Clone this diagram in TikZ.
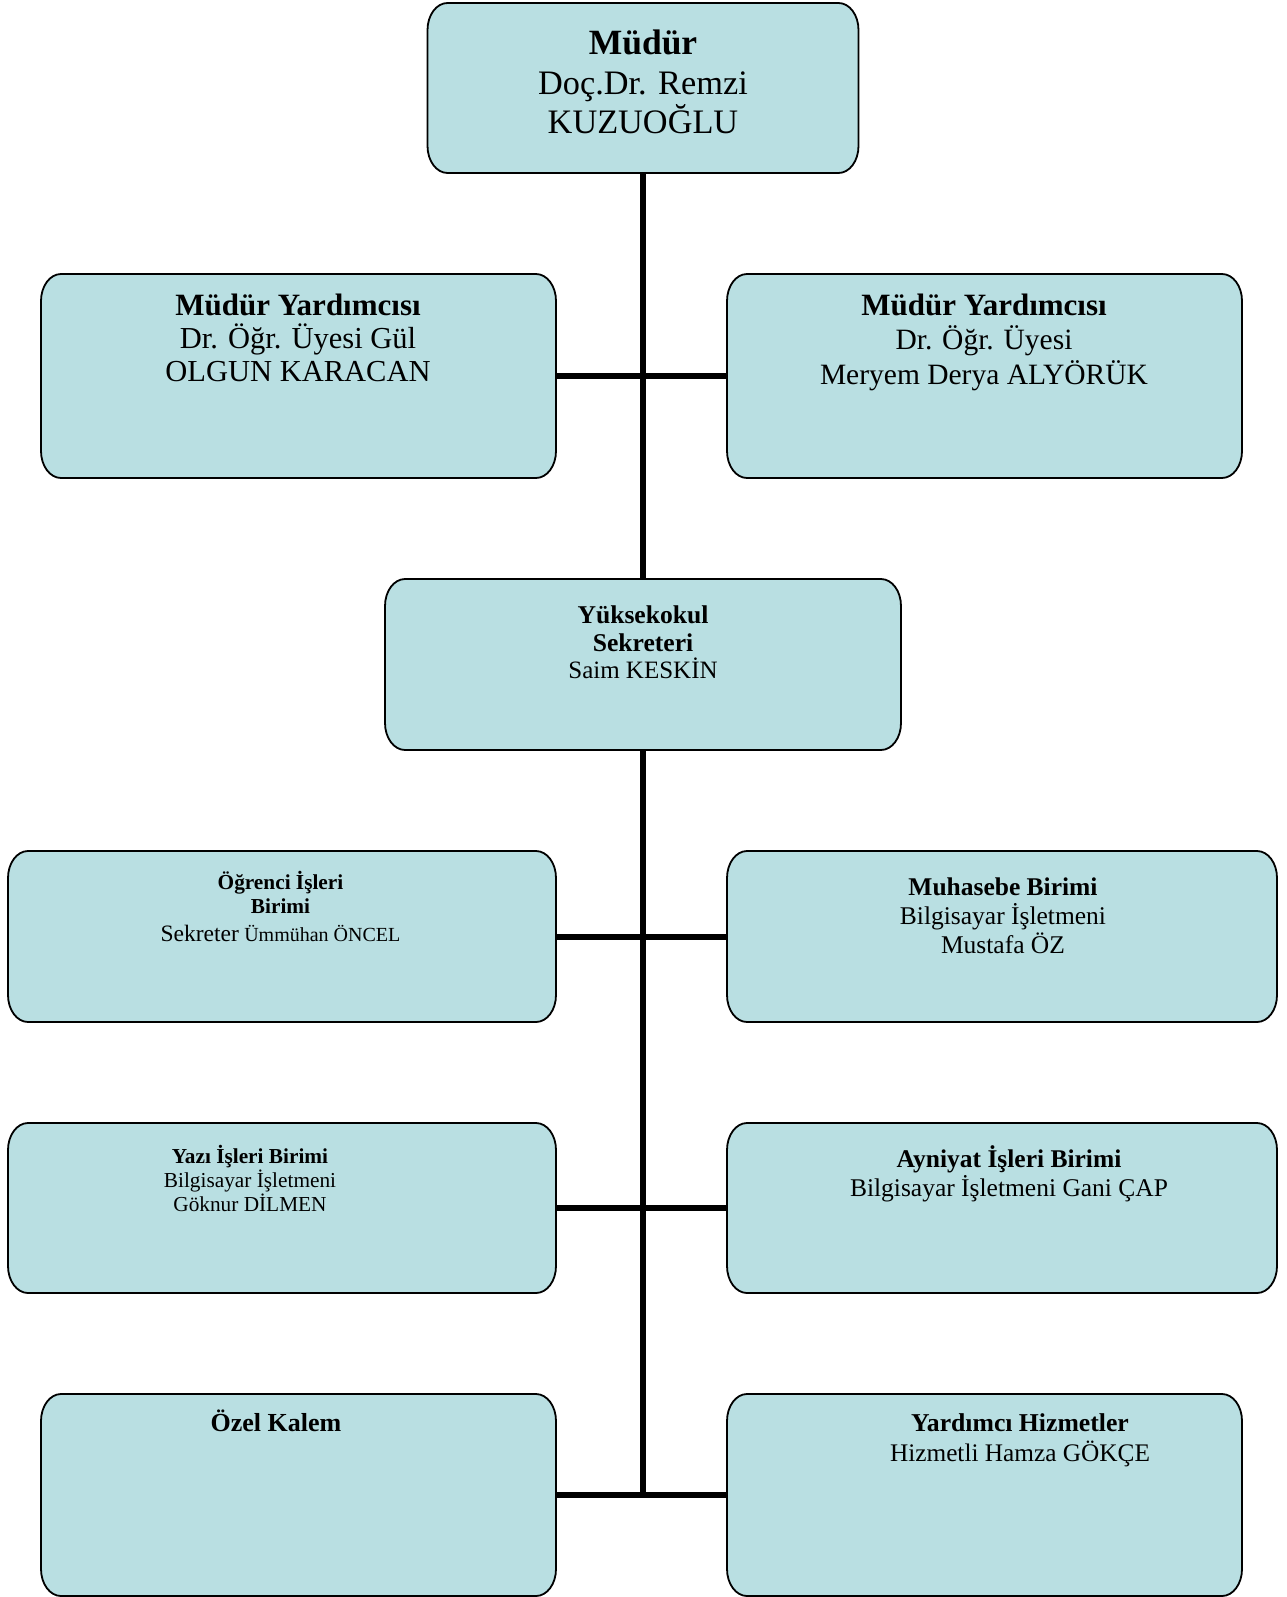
\documentclass[tikz,border=0pt]{standalone}
\usepackage{fontspec}
\setmainfont{Liberation Serif}
\usetikzlibrary{calc}
\definecolor{boxfill}{RGB}{185,223,226}
\AtBeginDocument{\lineskiplimit=-100pt}
\newcommand\tst{\rule{0pt}{0.8\baselineskip}}
\newcommand\rbox[1]{\path[rshape] ([yshift=-27pt]#1.north west) arc[start angle=180,end angle=90,x radius=20pt,y radius=27pt] -- ([xshift=-20pt]#1.north east) arc[start angle=90,end angle=0,x radius=20pt,y radius=27pt] -- ([yshift=27pt]#1.south east) arc[start angle=0,end angle=-90,x radius=20pt,y radius=27pt] -- ([xshift=20pt]#1.south west) arc[start angle=270,end angle=180,x radius=20pt,y radius=27pt] -- cycle;}
\tikzset{
  cell/.style={rectangle, draw=none, inner sep=0pt, outer sep=0pt},
  conn/.style={line width=6pt, black},
  txt/.style={align=center, inner sep=0pt, outer sep=0pt, anchor=north},
  rshape/.style={fill=boxfill, draw=black, line width=1.8pt},
}
\begin{document}
\begin{tikzpicture}[x=1pt,y=-1pt]
\useasboundingbox (0,0) rectangle (1286,1597);
\fill[white] (0,0) rectangle (1286,1597);
% boxes (anchors)
\node[cell, minimum width=431pt, minimum height=170pt] (mudur) at (643,88) {};
\node[cell, minimum width=515pt, minimum height=204pt] (myl) at (298.5,376) {};
\node[cell, minimum width=515pt, minimum height=204pt] (myr) at (984.5,376) {};
\node[cell, minimum width=516pt, minimum height=171pt] (yo) at (643,664.5) {};
\node[cell, minimum width=548pt, minimum height=171pt] (ogr) at (282,936.5) {};
\node[cell, minimum width=550pt, minimum height=171pt] (muh) at (1002,936.5) {};
\node[cell, minimum width=548pt, minimum height=170pt] (yazi) at (282,1208) {};
\node[cell, minimum width=550pt, minimum height=170pt] (ayn) at (1002,1208) {};
\node[cell, minimum width=515pt, minimum height=202pt] (ozel) at (298.5,1495) {};
\node[cell, minimum width=515pt, minimum height=202pt] (yard) at (984.5,1495) {};
\coordinate (jend) at (yo.south |- ozel.east);
% connectors
\draw[conn] (mudur.south) -- (yo.north);
\draw[conn] (yo.south) -- (jend);
\draw[conn] (myl.east) -- (myr.west);
\draw[conn] (ogr.east) -- (muh.west);
\draw[conn] (yazi.east) -- (ayn.west);
\draw[conn] (ozel.east) -- (yard.west);
% box shapes
\rbox{mudur}\rbox{myl}\rbox{myr}\rbox{yo}\rbox{ogr}\rbox{muh}\rbox{yazi}\rbox{ayn}\rbox{ozel}\rbox{yard}
% texts
\node[txt, font=\fontsize{34.3}{39.5}\selectfont] (tmudur) at (643,23.4)
  {\tst{\fontsize{35.5}{39.5}\selectfont\textbf{Müdür}}\\Doç.Dr. Remzi\\KUZUOĞLU};
\node[txt, font=\fontsize{30.5}{33}\selectfont] (tmyl) at (298,288.6)
  {\tst{\fontsize{31}{33}\selectfont\textbf{Müdür Yardımcısı}}\\Dr. Öğr. Üyesi Gül\\OLGUN KARACAN};
\node[txt, font=\fontsize{29.5}{34.5}\selectfont] (tmyr) at (984,287.4)
  {\tst{\fontsize{31}{34.5}\selectfont\textbf{Müdür Yardımcısı}}\\Dr. Öğr. Üyesi\\Meryem Derya ALYÖRÜK};
\node[txt, font=\fontsize{25}{27.5}\selectfont] (tyo) at (643,601.5)
  {\tst{\fontsize{25.6}{27.5}\selectfont\textbf{Yüksekokul}}\\{\fontsize{25.6}{27.5}\selectfont\textbf{Sekreteri}}\\Saim KESKİN};
\node[txt, font=\fontsize{21.3}{24}\selectfont] (togr) at (280.5,870.6)
  {\tst\textbf{Öğrenci İşleri}\\\textbf{Birimi}\\[3.5pt]{\fontsize{23.5}{24}\selectfont Sekreter} {\fontsize{20}{24}\selectfont Ümmühan ÖNCEL}};
\node[txt, font=\fontsize{25.5}{29}\selectfont] (tmuh) at (1003,871.8)
  {\tst\textbf{Muhasebe Birimi}\\Bilgisayar İşletmeni\\Mustafa ÖZ};
\node[txt, font=\fontsize{21.3}{24}\selectfont] (tyazi) at (250,1143.8)
  {\tst\textbf{Yazı İşleri Birimi}\\Bilgisayar İşletmeni\\Göknur DİLMEN};
\node[txt, font=\fontsize{25.5}{29}\selectfont] (tayn) at (1009,1143.8)
  {\tst\textbf{Ayniyat İşleri Birimi}\\Bilgisayar İşletmeni Gani ÇAP};
\node[txt, font=\fontsize{26}{28}\selectfont] (tozel) at (276,1408.6)
  {\tst\textbf{Özel Kalem}};
\node[txt, font=\fontsize{25.3}{30.5}\selectfont] (tyard) at (1020,1406.6)
  {\tst{\fontsize{25.7}{30.5}\selectfont\textbf{Yardımcı Hizmetler}}\\Hizmetli Hamza GÖKÇE};
\end{tikzpicture}
\end{document}
